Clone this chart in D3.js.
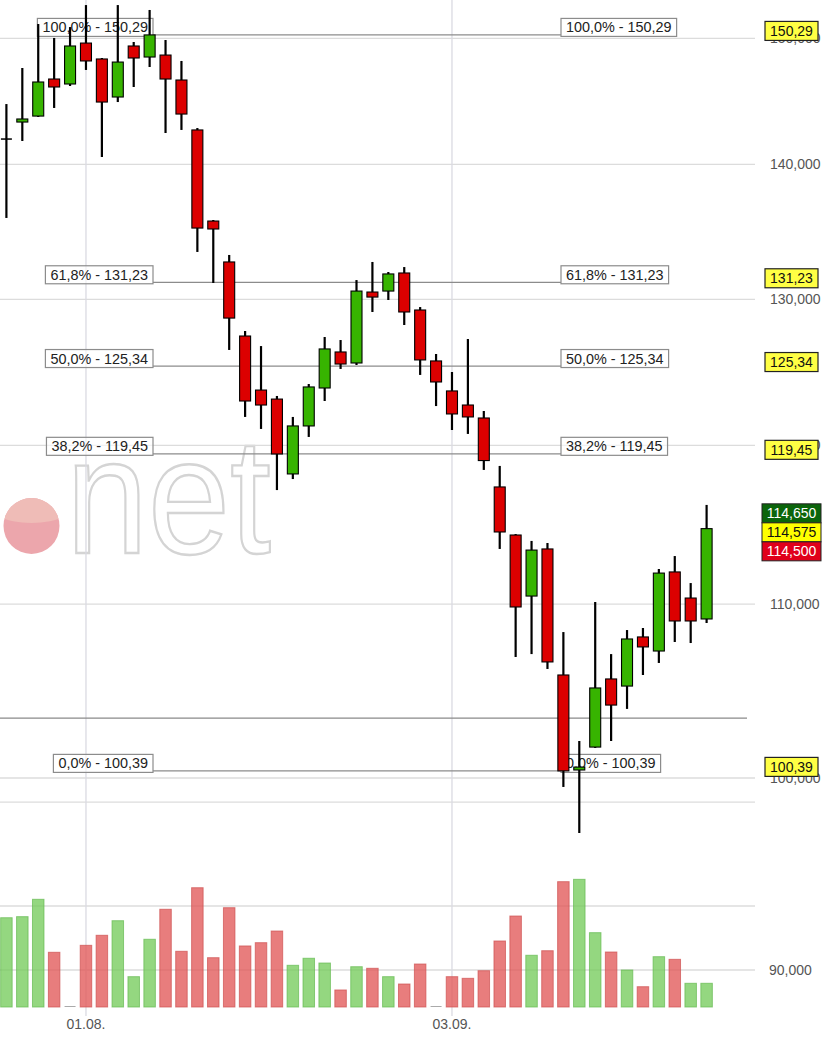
<!DOCTYPE html>
<html><head><meta charset="utf-8">
<script src="https://cdn.jsdelivr.net/npm/d3@7"></script>
<style>
body{margin:0;background:#fff}
svg{display:block;font-family:"Liberation Sans",Arial,sans-serif}
</style>
</head><body>
<svg id="c" width="827" height="1037"></svg>
<script>
// ---------- DATA ----------
const dates = ["25.07.","26.07.","27.07.","30.07.","31.07.","01.08.","02.08.","03.08.","06.08.","07.08.","08.08.","09.08.","10.08.","13.08.","14.08.","15.08.","16.08.","17.08.","20.08.","21.08.","22.08.","23.08.","24.08.","27.08.","28.08.","29.08.","30.08.","31.08.","03.09.","04.09.","05.09.","06.09.","07.09.","10.09.","11.09.","12.09.","13.09.","14.09.","17.09.","18.09.","19.09.","20.09.","21.09.","24.09.","25.09."];
const open  = [141.90,143.28,143.75,146.70,146.30,149.62,148.32,145.26,149.38,148.48,148.64,146.62,142.66,135.71,132.70,127.42,123.70,123.09,118.14,121.29,123.84,126.31,125.55,130.53,130.60,131.90,129.25,125.69,123.64,122.69,121.82,117.30,114.25,110.49,113.38,105.81,100.44,101.71,105.58,105.17,108.04,107.21,111.96,110.37,109.11];
const high  = [144.70,147.59,151.19,150.04,150.94,152.77,148.40,152.77,149.71,152.36,149.87,148.16,142.81,135.79,133.21,127.77,126.72,123.30,121.89,124.11,127.35,127.14,131.39,132.70,131.97,132.33,129.46,126.17,124.93,127.21,122.29,118.66,114.31,113.88,113.75,108.33,102.05,110.13,107.03,108.45,108.57,112.14,112.94,111.28,116.15];
const low   = [135.94,141.80,143.68,144.39,146.14,147.43,140.56,144.86,146.06,147.67,142.42,142.66,133.43,131.18,126.45,121.89,121.09,117.10,117.81,120.56,122.96,125.14,125.41,129.11,129.96,128.19,124.73,122.62,121.02,120.76,118.40,113.38,106.86,107.03,106.16,99.51,97.03,101.66,102.05,103.86,105.81,106.51,107.74,107.68,108.87];
const close = [142.00,143.52,146.46,146.06,149.38,148.16,144.86,148.07,148.40,150.29,146.70,143.91,135.19,135.12,128.68,122.96,122.69,119.44,121.29,123.91,126.52,125.48,130.60,130.17,131.83,129.11,125.76,124.25,122.09,121.89,119.01,114.44,109.83,113.31,106.57,100.39,100.60,105.06,104.08,107.92,107.45,111.89,108.99,108.99,114.65];
const volume = [163.5,165.0,189.4,114.9,0,124.7,138.8,159.3,80.6,133.2,175.4,116.3,205.7,107.3,177.6,123.8,128.4,144.8,96.6,106.5,99.8,61.9,94.6,92.4,80.6,70.3,98.4,0,80.6,78.3,89.0,130.8,165.9,110.7,117.1,214.2,217.5,142.5,115.3,90.0,66.5,108.7,105.0,71.3,71.3];
const volumeUp = [1,1,1,0,1,0,0,1,1,1,0,0,0,0,0,0,0,0,1,1,1,0,1,0,1,0,0,0,0,0,0,0,0,1,0,0,1,1,0,1,0,1,0,1,1];
const fibLevels = ["100,0%","61,8%","50,0%","38,2%","0,0%"];
const fibValues = [150.29,131.23,125.34,119.45,100.39];
const priceTicks = [100,110,120,130,140,150];
const volumeTicks = [90,180];
const volumeTickLabels = ["90,000",""];
const dateTicks = ["01.08.","03.09."];
const hLineValues = [103.34];
const lowerGridValues = [98.69];
const quoteLabels = ["114,650","114,575","114,500"];
const quoteValues = [114.650,114.575,114.500];

// ---------- SETUP ----------
const svg = d3.select("#c");
const W = 827, H = 1037;
const plotRight = 755;
const volBase = 1007;
const loc = d3.formatLocale({decimal:",", thousands:".", grouping:[3], currency:["",""]});
const f2 = loc.format(".2f"), f3 = loc.format(".3f");

const x = d3.scalePoint().domain(dates).range([6.4, 706.6]);
const y = d3.scaleLog().domain([100,150]).range([778, 38.44]);
const yv = d3.scaleLinear().domain([90,180]).range([970, 906]);

const GRID = "#dcdcdc";

// ---------- WATERMARK ----------
const wm = svg.append("g");
const defs = svg.append("defs");
defs.append("clipPath").attr("id","dotclip").append("circle").attr("cx",31.5).attr("cy",526).attr("r",28);
defs.append("clipPath").attr("id","axclip").append("rect").attr("x",0).attr("y",0).attr("width",822).attr("height",H);
wm.append("circle").attr("cx",31.5).attr("cy",526).attr("r",28).attr("fill","#eca6ac");
wm.append("ellipse").attr("cx",31.5).attr("cy",500).attr("rx",48).attr("ry",23)
  .attr("fill","#efbcb7").attr("clip-path","url(#dotclip)");
wm.append("text").attr("x",66).attr("y",553).text("net")
  .attr("font-size",165).attr("textLength",205).attr("lengthAdjust","spacingAndGlyphs")
  .attr("fill","none").attr("stroke","#d4d4d4").attr("stroke-width",2.4);

// ---------- GRID ----------
const grid = svg.append("g");
grid.selectAll(".hg").data(priceTicks.concat(lowerGridValues)).join("line")
  .attr("x1",0).attr("x2",plotRight).attr("y1",d=>y(d)).attr("y2",d=>y(d))
  .attr("stroke",GRID).attr("stroke-width",1.3);
grid.selectAll(".vg").data(volumeTicks).join("line")
  .attr("x1",0).attr("x2",plotRight).attr("y1",d=>yv(d)).attr("y2",d=>yv(d))
  .attr("stroke",GRID).attr("stroke-width",1.3);
grid.selectAll(".dg").data(dateTicks).join("line")
  .attr("x1",d=>x(d)).attr("x2",d=>x(d)).attr("y1",0).attr("y2",1016)
  .attr("stroke","#dadae2").attr("stroke-width",1.3);

// ---------- AXIS LABELS ----------
const ax = svg.append("g").attr("clip-path","url(#axclip)").attr("fill","#555").attr("font-size",14);
ax.selectAll(".pt").data(priceTicks).join("text")
  .attr("x",770).attr("y",d=>y(d)).attr("dy","0.36em").text(d=>f3(d));
ax.selectAll(".vt").data(volumeTicks).join("text")
  .attr("x",769).attr("y",d=>yv(d)).attr("dy","0.36em").text((d,i)=>volumeTickLabels[i]);
svg.append("g").attr("fill","#555").attr("font-size",14).selectAll("text").data(dateTicks).join("text")
  .attr("x",d=>x(d)).attr("y",1029).attr("text-anchor","middle").text(d=>d);

// ---------- VOLUME ----------
const vg = svg.append("g");
dates.forEach((d,i)=>{
  const v = volume[i];
  if (v <= 0) {
    vg.append("line").attr("x1",x(d)-5.5).attr("x2",x(d)+5.5).attr("y1",volBase-0.5).attr("y2",volBase-0.5)
      .attr("stroke","#aaa").attr("stroke-width",1);
    return;
  }
  const top = Math.min(yv(v), volBase-1);
  const up = volumeUp[i]===1;
  vg.append("rect").attr("x",x(d)-5.75).attr("width",11.5).attr("y",top).attr("height",volBase-top)
    .attr("fill", up ? "rgb(118,204,92)" : "rgb(226,88,88)").attr("fill-opacity",0.78)
    .attr("stroke", up ? "rgb(100,185,80)" : "rgb(205,80,80)").attr("stroke-opacity",0.7).attr("stroke-width",1);
});

// ---------- HORIZONTAL LINE ----------
svg.append("g").selectAll("line").data(hLineValues).join("line")
  .attr("x1",0).attr("x2",747).attr("y1",d=>y(d)).attr("y2",d=>y(d))
  .attr("stroke","#8a8a8a").attr("stroke-width",1.2);

// ---------- FIB LINES (under candles) ----------
const fibLineG = svg.append("g");
const fibBoxG = svg.append("g");

// ---------- CANDLES ----------
const cg = svg.append("g");
dates.forEach((d,i)=>{
  const cx = x(d);
  cg.append("line").attr("x1",cx).attr("x2",cx).attr("y1",y(high[i])).attr("y2",y(low[i]))
    .attr("stroke","#000").attr("stroke-width",2.2);
  const y1 = y(Math.max(open[i],close[i])), y2 = y(Math.min(open[i],close[i]));
  const h = Math.max(1, y2-y1);
  if (y2 - y1 < 1.5) {
    cg.append("line").attr("x1",cx-5.5).attr("x2",cx+5.5).attr("y1",(y1+y2)/2).attr("y2",(y1+y2)/2)
      .attr("stroke","#000").attr("stroke-width",1.5);
  } else {
    cg.append("rect").attr("x",cx-5.5).attr("width",11).attr("y",y1).attr("height",h)
      .attr("fill", close[i]>=open[i] ? "#37b400" : "#dc0000")
      .attr("stroke","#000").attr("stroke-width",1.1);
  }
});

// ---------- FIB LABELS ----------
function box(g, txt, xAnchor, align, lineY) {
  const t = g.append("text").attr("font-size",14.4).attr("fill","#222").text(txt);
  const w = t.node().getComputedTextLength() + 10;
  const bx = align==="right" ? xAnchor - w : xAnchor;
  const top = lineY + 1.5 - 18;
  g.insert("rect","text").attr("x",bx).attr("y",top).attr("width",w).attr("height",18)
    .attr("fill","#fff").attr("fill-opacity",0.6).attr("stroke","#8c8c8c").attr("stroke-width",1.2);
  t.attr("x",bx+5).attr("y",top+14);
  return [bx, bx+w];
}
fibValues.forEach((v,i)=>{
  const ly = y(v);
  const txt = fibLevels[i] + " - " + f2(v);
  const g1 = fibBoxG.append("g"), g2 = fibBoxG.append("g");
  const L = box(g1, txt, 153, "right", ly);
  const R = box(g2, txt, 561, "left", ly);
  fibLineG.append("line").attr("x1",L[1]).attr("x2",R[0]).attr("y1",ly).attr("y2",ly)
    .attr("stroke","#8c8c8c").attr("stroke-width",1.2);
  // right axis yellow marker
  const mg = svg.append("g");
  mg.append("rect").attr("x",765).attr("y",ly-13.5).attr("width",53).attr("height",19)
    .attr("fill","#ffff44").attr("stroke","#222").attr("stroke-width",1.2);
  mg.append("text").attr("x",791.5).attr("y",ly-13.5+14.5).attr("text-anchor","middle")
    .attr("font-size",14).attr("fill","#111").text(f2(v));
});

// ---------- LAST QUOTES ----------
const qFill = ["#0b650b","#ffff00","#e0001b"], qText = ["#fff","#111","#fff"];
const midTop = y(quoteValues[1]) - 7;
quoteLabels.forEach((lab,i)=>{
  const top = midTop + (i-1)*19;
  svg.append("rect").attr("x",762).attr("y",top).attr("width",59).attr("height",19)
    .attr("fill",qFill[i]).attr("stroke","#222").attr("stroke-width",1);
  svg.append("text").attr("x",791.5).attr("y",top+14.5).attr("text-anchor","middle")
    .attr("font-size",14).attr("fill",qText[i]).text(lab);
});
</script>
</body></html>
